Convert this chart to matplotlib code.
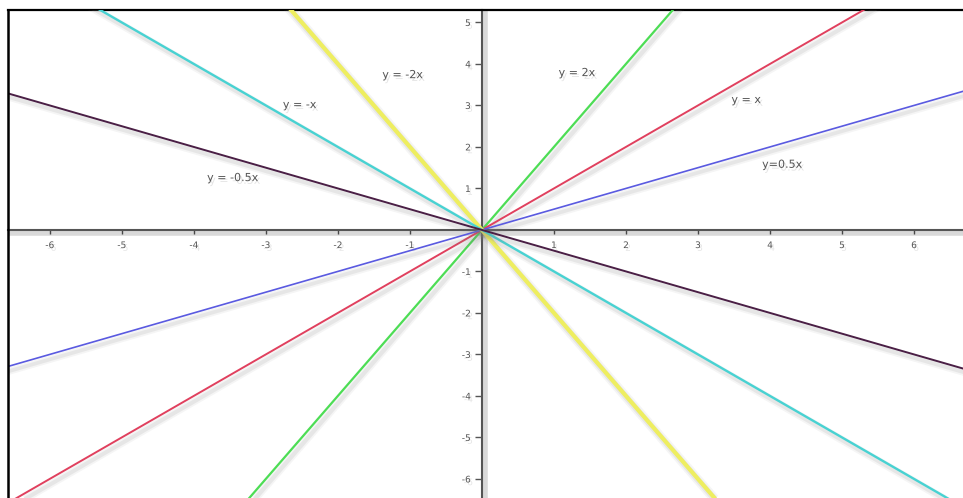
import numpy as np
import matplotlib
matplotlib.use("Agg")
import matplotlib.pyplot as plt
import matplotlib.patheffects as pe

# data
slopes = [2, 1, 0.5, -2, -1, -0.5]
names = ["y = 2x", "y = x", "y=0.5x", "y = -2x", "y = -x", "y = -0.5x"]
colors = ["#4ddd55", "#e0405e", "#5a5ae0", "#eeee60", "#48d2d2", "#4a1f45"]
widths = [1.6, 1.4, 1.2, 3.0, 1.7, 1.4]
label_x = [1.32, 3.67, 4.17, -1.10, -2.53, -3.46]
label_y = [3.78, 3.13, 1.57, 3.73, 3.01, 1.25]
xticks = [-6, -5, -4, -3, -2, -1, 1, 2, 3, 4, 5, 6]
yticks = [-6, -5, -4, -3, -2, -1, 1, 2, 3, 4, 5]
xlim = (-6.58, 6.68)
ylim = (-6.46, 5.30)

fig = plt.figure(figsize=(9.63, 4.98), dpi=100)
ax = fig.add_axes([8 / 963, 0, 955 / 963, 488 / 498])
ax.set_xlim(*xlim)
ax.set_ylim(*ylim)

xs = np.array([-8.0, 8.0])
for s, c, w in zip(slopes, colors, widths):
    eff = [pe.SimpleLineShadow(offset=(2, -3), shadow_color="gray", alpha=0.08, linewidth=w + 4),
           pe.SimpleLineShadow(offset=(2, -3), shadow_color="gray", alpha=0.12, linewidth=w + 1.5),
           pe.Normal()]
    ax.plot(xs, s * xs, color=c, lw=w, path_effects=eff, zorder=3, solid_capstyle="butt")

tshadow = [pe.withSimplePatchShadow(offset=(1.5, -2), shadow_rgbFace="gray", alpha=0.2)]
for n, lx, ly in zip(names, label_x, label_y):
    ax.text(lx, ly, n, fontsize=8, color="#555555", ha="center", va="center",
            path_effects=tshadow, zorder=5)

# axes through origin
for side in ["left", "bottom"]:
    ax.spines[side].set_position(("data", 0))
    ax.spines[side].set_color("#555555")
    ax.spines[side].set_linewidth(1.5)
    ax.spines[side].set_path_effects([pe.SimpleLineShadow(offset=(2, -2), alpha=0.15, linewidth=4), pe.Normal()])
ax.spines["right"].set_visible(False)
ax.spines["top"].set_color("black")
ax.spines["top"].set_linewidth(1.6)
ax.axvline(xlim[0], color="black", lw=1.8, clip_on=False, zorder=6)

ax.set_xticks(xticks)
ax.set_yticks(yticks)
ax.set_xticklabels([str(t) for t in xticks])
ax.set_yticklabels([str(t) for t in yticks])
ax.tick_params(axis="both", direction="out", length=3, width=1, color="#555555",
               labelsize=6.5, labelcolor="#555555")
ax.tick_params(axis="x", pad=5)
ax.tick_params(axis="y", length=5, pad=3)
for lab in ax.get_xticklabels() + ax.get_yticklabels():
    lab.set_path_effects(tshadow)

fig.savefig("out.png", dpi=100)
